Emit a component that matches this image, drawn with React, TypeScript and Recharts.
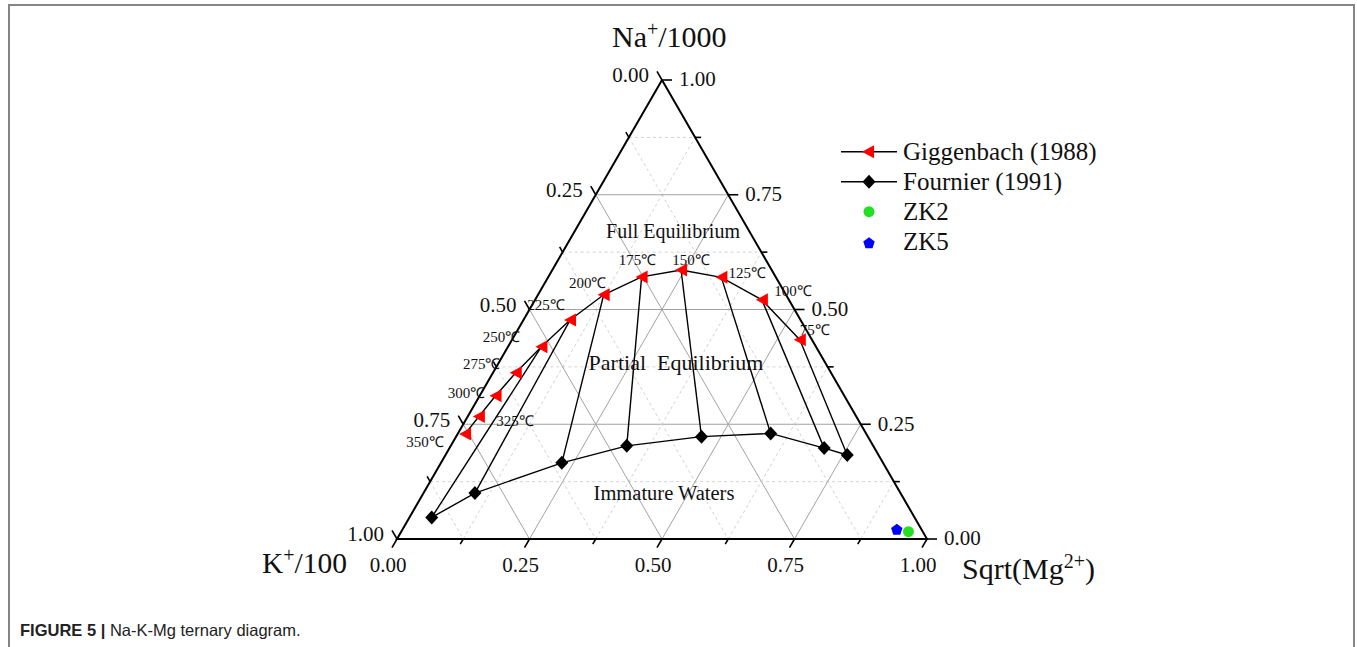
import { ReferenceLine, Scatter, ScatterChart, XAxis, YAxis } from 'recharts'

const SERIF = '"Liberation Serif", "Times New Roman", serif'
const SANS = '"Liberation Sans", Arial, sans-serif'

// page / plot geometry
const W = 1357
const H = 647
const UNIT = 530 // px for one ternary unit (length of the base)
const ORIGIN_X = 397 // K+ vertex on the page
const ORIGIN_Y = 539
const SQ = Math.sqrt(3) / 2

// Giggenbach (1988) full-equilibrium line, fractions of Na/1000, K/100, sqrt(Mg)
const gigTemps = [75, 100, 125, 150, 175, 200, 225, 250, 275, 300, 325, 350]
const gigNa = [0.434, 0.521, 0.57, 0.586, 0.571, 0.532, 0.477, 0.419, 0.362, 0.312, 0.267, 0.229]
const gigK = [0.023, 0.051, 0.103, 0.171, 0.253, 0.344, 0.435, 0.518, 0.595, 0.658, 0.712, 0.757]
const gigMg = [0.543, 0.428, 0.327, 0.243, 0.176, 0.124, 0.088, 0.063, 0.043, 0.03, 0.021, 0.014]

// Fournier (1991) immature-water line
const fouTemps = [250, 225, 200, 175, 150, 125, 100, 75]
const fouNa = [0.047, 0.1, 0.166, 0.203, 0.223, 0.23, 0.198, 0.183]
const fouK = [0.911, 0.803, 0.606, 0.465, 0.314, 0.18, 0.095, 0.059]
const fouMg = [0.042, 0.097, 0.228, 0.332, 0.463, 0.59, 0.707, 0.758]

// water samples
const sampleNames = ['ZK2', 'ZK5']
const sampleNa = [0.016, 0.02]
const sampleK = [0.027, 0.047]
const sampleMg = [0.957, 0.933]

const axisTicks = [0, 0.25, 0.5, 0.75, 1]
const minorTicks = [0.125, 0.375, 0.625, 0.875]
const gridLevels = [0.125, 0.25, 0.375, 0.5, 0.625, 0.75, 0.875]

// where each temperature tag sits relative to its marker (px)
const tempLabelOffset: Record<number, [number, number]> = {
  75: [15, -10], 100: [31, -9], 125: [26, -5], 150: [10, -10], 175: [-4, -17], 200: [-16, -12],
  225: [-24, -15], 250: [-40, -10], 275: [-34, -9], 300: [-29, -3], 325: [36, 4], 350: [-40, 8],
}

// ternary -> cartesian (K at the origin, sqrt(Mg) to the right, Na at the apex)
const tern = (na: number, k: number, mg: number) => {
  const s = na + k + mg
  return { x: (mg + na / 2) / s, y: (na * SQ) / s }
}

const xDomain = [-ORIGIN_X / UNIT, (W - ORIGIN_X) / UNIT]
const yDomain = [-(H - ORIGIN_Y) / UNIT, ORIGIN_Y / UNIT]

const triPoints = (cx: number, cy: number) => `${cx - 6},${cy} ${cx + 6},${cy - 6.5} ${cx + 6},${cy + 6.5}`
const diaPoints = (cx: number, cy: number) => `${cx},${cy - 7} ${cx + 6.5},${cy} ${cx},${cy + 7} ${cx - 6.5},${cy}`
const pentaPoints = (cx: number, cy: number, r: number) =>
  [0, 1, 2, 3, 4].map(i => {
    const a = (-90 + i * 72) * Math.PI / 180
    return `${cx + r * Math.cos(a)},${cy + r * Math.sin(a)}`
  }).join(' ')

const noMark = () => <g />

const gigShape = (p: any) => {
  const [dx, dy] = tempLabelOffset[p.payload.t]
  return <g>
    <polygon points={triPoints(p.cx, p.cy)} fill="#ff0000" />
    <text x={p.cx + dx} y={p.cy + dy} dy="0.35em" textAnchor="middle" fontSize={15} fontFamily={SERIF} fill="#111">{p.payload.t}℃</text>
  </g>
}
const fouShape = (p: any) => <polygon points={diaPoints(p.cx, p.cy)} fill="#000" />
const sampleShape = (p: any) => p.payload.name === 'ZK2'
  ? <circle cx={p.cx} cy={p.cy} r={5.5} fill="#22e022" />
  : <polygon points={pentaPoints(p.cx, p.cy, 6)} fill="#0000ff" />

const labelStyle = { fontSize: 21, fontFamily: SERIF, fill: '#111' }
const naLabel = (p: any) => <text x={p.cx + 17} y={p.cy - 1} dy="0.35em" textAnchor="start" {...labelStyle}>{p.payload.label}</text>
const kLabel = (p: any) => <text x={p.cx - 13} y={p.cy - 5} dy="0.35em" textAnchor="end" {...labelStyle}>{p.payload.label}</text>
const mgLabel = (p: any) => <text x={p.cx - 9} y={p.cy + 26} dy="0.35em" textAnchor="middle" {...labelStyle}>{p.payload.label}</text>

function tickSegments(v: number, len: number) {
  const d = len / UNIT
  const na = tern(v, 0, 1 - v)
  const k = tern(1 - v, v, 0)
  const mg = tern(0, 1 - v, v)
  return [
    [na, { x: na.x + d, y: na.y }],
    [k, { x: k.x - 0.5 * d, y: k.y + SQ * d }],
    [mg, { x: mg.x - 0.5 * d, y: mg.y - SQ * d }],
  ]
}

export default function App() {
  const gig = gigTemps.map((t, i) => ({ t, ...tern(gigNa[i], gigK[i], gigMg[i]) }))
  const fou = fouTemps.map((t, i) => ({ t, ...tern(fouNa[i], fouK[i], fouMg[i]) }))
  const samples = sampleNames.map((name, i) => ({ name, ...tern(sampleNa[i], sampleK[i], sampleMg[i]) }))
  const frame = [tern(1, 0, 0), tern(0, 0, 1), tern(0, 1, 0), tern(1, 0, 0)]

  const naTicks = axisTicks.map(v => ({ label: v.toFixed(2), ...tern(v, 0, 1 - v) }))
  const kTicks = axisTicks.map(v => ({ label: v.toFixed(2), ...tern(1 - v, v, 0) }))
  const mgTicks = axisTicks.map(v => ({ label: v.toFixed(2), ...tern(0, 1 - v, v) }))

  const grid = gridLevels.flatMap(v => {
    const major = Math.abs(v * 4 - Math.round(v * 4)) < 1e-6
    return [
      { major, seg: [tern(v, 1 - v, 0), tern(v, 0, 1 - v)] },
      { major, seg: [tern(1 - v, v, 0), tern(0, v, 1 - v)] },
      { major, seg: [tern(0, 1 - v, v), tern(1 - v, 0, v)] },
    ]
  })
  const ticks = [
    ...axisTicks.flatMap(v => tickSegments(v, 10)),
    ...minorTicks.flatMap(v => tickSegments(v, 6)),
  ]

  return (
    <div style={{ position: 'absolute', left: 0, top: 0, width: W, height: H, background: '#fff', overflow: 'hidden' }}>
      <div style={{ position: 'absolute', left: 8, top: 4, width: 1347, height: 700, boxSizing: 'border-box', borderTop: '2px solid #858585', borderLeft: '2px solid #858585', borderRight: '2px solid #858585' }} />
      <div style={{ position: 'absolute', left: 0, top: 0 }}>
        <ScatterChart width={W} height={H} margin={{ top: 0, right: 0, bottom: 0, left: 0 }}>
          <XAxis type="number" dataKey="x" domain={xDomain} hide allowDataOverflow />
          <YAxis type="number" dataKey="y" domain={yDomain} hide allowDataOverflow />
          {grid.map((g, i) => (
            <ReferenceLine key={`g${i}`} segment={g.seg} ifOverflow="visible"
              stroke={g.major ? '#a3a3a3' : '#d2d2d2'} strokeWidth={1} strokeDasharray={g.major ? undefined : '3 3'} />
          ))}
          {ticks.map((s, i) => (
            <ReferenceLine key={`t${i}`} segment={s} ifOverflow="visible" stroke="#000" strokeWidth={1.6} />
          ))}
          <Scatter data={frame} line={{ stroke: '#000', strokeWidth: 2 }} shape={noMark} isAnimationActive={false} />
          <Scatter data={naTicks} shape={naLabel} isAnimationActive={false} />
          <Scatter data={kTicks} shape={kLabel} isAnimationActive={false} />
          <Scatter data={mgTicks} shape={mgLabel} isAnimationActive={false} />
          {fou.map(d => (
            <Scatter key={`tie${d.t}`} data={[d, gig.find(g => g.t === d.t)!]}
              line={{ stroke: '#000', strokeWidth: 1.4 }} shape={noMark} isAnimationActive={false} />
          ))}
          <Scatter name="Fournier (1991)" data={fou} line={{ stroke: '#000', strokeWidth: 1.4 }} shape={fouShape} isAnimationActive={false} />
          <Scatter name="Giggenbach (1988)" data={gig} line={{ stroke: '#000', strokeWidth: 1.4 }} shape={gigShape} isAnimationActive={false} />
          <Scatter name="Samples" data={samples} shape={sampleShape} isAnimationActive={false} />
        </ScatterChart>
      </div>
      <svg width={W} height={H} style={{ position: 'absolute', left: 0, top: 0, pointerEvents: 'none' }}>
        <g fontFamily={SERIF} fill="#111">
          <text x={612} y={47} fontSize={30}>Na<tspan dy={-11} fontSize={20}>+</tspan><tspan dy={11}>/1000</tspan></text>
          <text x={262} y={573} fontSize={29.5}>K<tspan dy={-11} fontSize={20}>+</tspan><tspan dy={11}>/100</tspan></text>
          <text x={962} y={579} fontSize={30}>Sqrt(Mg<tspan dy={-11} fontSize={20}>2+</tspan><tspan dy={11}>)</tspan></text>

          <text x={673} y={238} fontSize={20} textAnchor="middle">Full Equilibrium</text>
          <text x={676} y={370} fontSize={22} textAnchor="middle" style={{ whiteSpace: 'pre' }}>Partial  Equilibrium</text>
          <text x={664} y={500} fontSize={20.5} textAnchor="middle">Immature Waters</text>

          <line x1={841} x2={897} y1={151.7} y2={151.7} stroke="#000" strokeWidth={1.4} />
          <polygon points={triPoints(868, 151.7)} fill="#ff0000" />
          <text x={903} y={159.5} fontSize={25}>Giggenbach (1988)</text>
          <line x1={841} x2={897} y1={181.7} y2={181.7} stroke="#000" strokeWidth={1.4} />
          <polygon points={diaPoints(869, 181.7)} fill="#000" />
          <text x={903} y={189.5} fontSize={25}>Fournier (1991)</text>
          <circle cx={869} cy={211.7} r={5.5} fill="#22e022" />
          <text x={903} y={220} fontSize={25}>ZK2</text>
          <polygon points={pentaPoints(869, 243.3, 6)} fill="#0000ff" />
          <text x={903} y={250} fontSize={25}>ZK5</text>
        </g>
        <text x={20} y={636} fontSize={16.5} fontFamily={SANS} fill="#222">
          <tspan fontWeight="bold">FIGURE 5 | </tspan>Na-K-Mg ternary diagram.
        </text>
      </svg>
    </div>
  )
}
